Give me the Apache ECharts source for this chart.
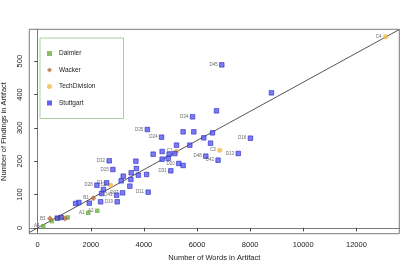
<!DOCTYPE html>
<html><head><meta charset="utf-8">
<script src="https://cdn.jsdelivr.net/npm/echarts@6/dist/echarts.min.js"></script>
<style>html,body{margin:0;padding:0;background:#fff}#c{width:415px;height:271px}</style>
</head><body><div id="c"></div>
<script>
// ---- data ----
const daimlerX = [212, 526, 1128, 1903, 2242];
const daimlerY = [5, 20, 31, 45, 51];
const daimlerLabels = ['A4', '', 'A3', 'A1', 'A2'];

const wackerX = [463, 1027, 2091];
const wackerY = [28, 28, 89];
const wackerLabels = ['B3', 'B2', 'B1'];

const techX = [5228, 2745, 6856, 13100];
const techY = [230, 128, 233, 573];
const techLabels = ['C1', 'C2', 'C3', 'C4'];

const stuttgartX = [6932, 6732, 5830, 4130, 4664, 5476, 5879, 6582, 6255, 8011, 8801,
  5228, 5728, 6507, 4348, 4686, 4950, 5164, 4686, 4912, 3697, 3716, 3520, 3509, 3791,
  4100, 3471, 6330, 6792, 7552, 5013, 5314, 5476, 4160, 2693, 2832, 3220, 3145, 2230,
  2595, 2475, 2407, 3197, 2971, 2994, 2370, 1941, 1553, 1429, 737, 876];
const stuttgartY = [489, 351, 333, 295, 272, 288, 288, 285, 270, 269, 405,
  248, 248, 254, 221, 229, 221, 223, 206, 208, 200, 178, 165, 145, 158,
  160, 125, 215, 203, 223, 171, 193, 187, 107, 201, 175, 155, 141, 128,
  135, 115, 103, 105, 98, 78, 78, 74, 76, 73, 29, 31];
const stuttgartLabels = ['D45', '', 'D34', 'D35', 'D24', '', '', '', '', 'D16', '',
  '', '', '', '', '', '', '', '', '', '', '', '', '', '',
  '', '', 'D48', 'D42', 'D13', 'D31', 'D20', '', 'D11', 'D32', 'D15', '', '', 'D28',
  'D1', '', '', 'D07', 'D43', 'D19', '', '', '', '', '', ''];

const fitLineX = [-316, 13616];
const fitLineY = [-14, 595];

const xTicks = [0, 2000, 4000, 6000, 8000, 10000, 12000];
const yTicks = [0, 100, 200, 300, 400, 500];
const xRange = [-316, 13616];
const yRange = [-17.7, 595.7];

// ---- build ----
function pts(xs, ys, labels) {
  return xs.map((x, i) => ({ value: [x, ys[i]], label: { formatter: labels[i] || '' } }));
}
const FONT = 'Liberation Sans, Arial, Helvetica, sans-serif';
const ptLabel = { show: true, position: 'left', distance: 1.5, fontSize: 4.5, color: '#444', fontFamily: FONT };

const chart = echarts.init(document.getElementById('c'), null, { renderer: 'canvas' });
chart.setOption({
  animation: false,
  textStyle: { fontFamily: FONT },
  grid: { left: 29.3, right: 15.7, top: 29.3, bottom: 37.3, containLabel: false, outerBoundsMode: 'none',
    show: true, borderColor: '#7a7a7a', borderWidth: 1 },
  xAxis: {
    type: 'value', min: xRange[0], max: xRange[1],
    splitLine: { show: false },
    axisLine: { show: true, lineStyle: { color: '#7a7a7a', width: 1 } },
    axisTick: { show: true, length: 3.5, customValues: xTicks, lineStyle: { color: '#444' } },
    axisLabel: { customValues: xTicks, formatter: v => String(v), fontSize: 7.5, color: '#222', margin: 7, fontFamily: FONT },
    name: 'Number of Words in Artifact', nameLocation: 'middle', nameGap: 20,
    nameTextStyle: { fontSize: 7.5, color: '#222', fontFamily: FONT }
  },
  yAxis: {
    type: 'value', min: yRange[0], max: yRange[1],
    splitLine: { show: false },
    axisLine: { show: true, lineStyle: { color: '#7a7a7a', width: 1 } },
    axisTick: { show: true, length: 3.5, customValues: yTicks, lineStyle: { color: '#444' } },
    axisLabel: { customValues: yTicks, formatter: v => String(v), fontSize: 7.5, color: '#222', rotate: 90, margin: 5, fontFamily: FONT },
    name: 'Number of Findings in Artifact', nameLocation: 'middle', nameGap: 20, nameRotate: 90,
    nameTextStyle: { fontSize: 7.5, color: '#222', fontFamily: FONT }
  },
  legend: {
    orient: 'vertical', left: 40, top: 38,
    padding: [12, 28, 12, 7],
    borderColor: '#a9cfa0', borderWidth: 1,
    itemWidth: 5, itemHeight: 5, itemGap: 9.5,
    textStyle: { fontSize: 6.5, color: '#222', fontFamily: FONT, padding: [0, 0, 0, 2] },
    data: [
      { name: 'Daimler', icon: 'rect' },
      { name: 'Wacker', icon: 'diamond' },
      { name: 'TechDivision', icon: 'circle' },
      { name: 'Stuttgart', icon: 'rect', itemStyle: { borderWidth: 0, color: '#3b3bf0' } }
    ]
  },
  series: [
    { type: 'line', name: 'fit', data: fitLineX.map((x, i) => [x, fitLineY[i]]), symbol: 'none',
      lineStyle: { color: '#555', width: 1 }, silent: true, z: 1 },
    { type: 'scatter', name: 'Daimler', data: pts(daimlerX, daimlerY, daimlerLabels), symbol: 'rect', symbolSize: 4.5,
      itemStyle: { color: '#6aaf3c' }, label: ptLabel, z: 3 },
    { type: 'scatter', name: 'Wacker', data: pts(wackerX, wackerY, wackerLabels), symbol: 'diamond', symbolSize: 6,
      itemStyle: { color: '#b86a3a' }, label: ptLabel, z: 3 },
    { type: 'scatter', name: 'TechDivision', data: pts(techX, techY, techLabels), symbol: 'circle', symbolSize: 5,
      itemStyle: { color: '#f4b942' }, label: ptLabel, z: 3 },
    { type: 'scatter', name: 'Stuttgart', data: pts(stuttgartX, stuttgartY, stuttgartLabels), symbol: 'rect', symbolSize: 4.5,
      itemStyle: { color: '#5b5bf5', borderColor: '#2a2ac0', borderWidth: 0.8 }, label: ptLabel, z: 3 }
  ]
});
</script></body></html>
